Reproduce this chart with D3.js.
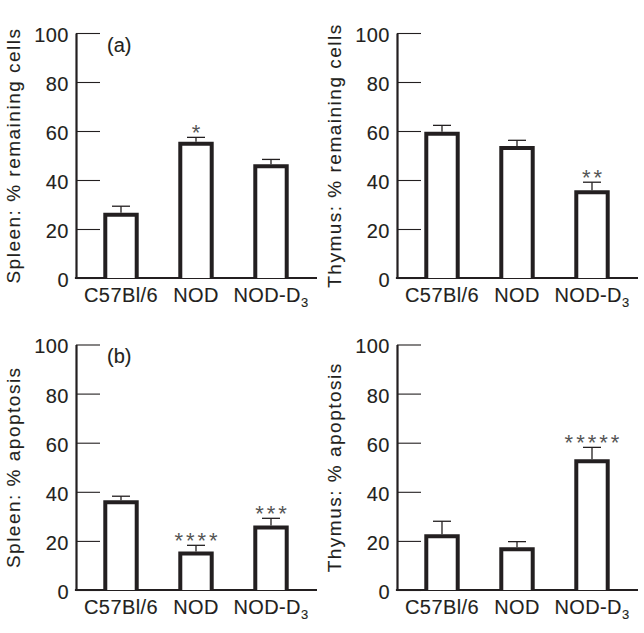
<!DOCTYPE html>
<html>
<head>
<meta charset="utf-8">
<script src="https://cdn.jsdelivr.net/npm/d3@7"></script>
<style>
  html, body { margin: 0; padding: 0; background: #fff; }
  svg { display: block; }
</style>
</head>
<body>
<svg id="chart" width="644" height="633"></svg>
<script>
// ---------------- data ----------------
const categories = ["C57Bl/6", "NOD", "NOD-D3"];
const yTicks = [0, 20, 40, 60, 80, 100];

const spleenRemaining    = [25.8, 54.8, 45.6];
const spleenRemainingErr = [3.5, 2.6, 2.8];
const spleenRemainingSig = ["", "*", ""];

const thymusRemaining    = [58.9, 53.1, 35.0];
const thymusRemainingErr = [3.4, 3.1, 4.1];
const thymusRemainingSig = ["", "", "**"];

const spleenApoptosis    = [35.7, 14.9, 25.5];
const spleenApoptosisErr = [2.5, 3.3, 3.7];
const spleenApoptosisSig = ["", "****", "***"];

const thymusApoptosis    = [21.9, 16.6, 52.4];
const thymusApoptosisErr = [6.1, 3.1, 5.7];
const thymusApoptosisSig = ["", "", "*****"];

const yTitles = ["Spleen: % remaining cells", "Thymus: % remaining cells",
                 "Spleen: % apoptosis", "Thymus: % apoptosis"];
const panelLetters = ["(a)", "", "(b)", ""];

// ---------------- layout ----------------
const panels = [
  { x0: 76,  yBottom: 278, yTop: 33,    values: spleenRemaining, err: spleenRemainingErr, sig: spleenRemainingSig },
  { x0: 397, yBottom: 278, yTop: 33,    values: thymusRemaining, err: thymusRemainingErr, sig: thymusRemainingSig },
  { x0: 76,  yBottom: 590, yTop: 344.5, values: spleenApoptosis, err: spleenApoptosisErr, sig: spleenApoptosisSig },
  { x0: 397, yBottom: 590, yTop: 344.5, values: thymusApoptosis, err: thymusApoptosisErr, sig: thymusApoptosisSig }
];

const ink = "#231f20";
const font = "'Liberation Sans', Arial, Helvetica, sans-serif";
const svg = d3.select("#chart");

function heavy(sel) {
  return sel.attr("fill", ink).attr("stroke", ink).attr("stroke-width", 0.12)
    .attr("paint-order", "stroke");
}

panels.forEach((p, i) => {
  const g = svg.append("g");
  const y = d3.scaleLinear().domain([0, 100]).range([p.yBottom, p.yTop]);
  const x = d3.scaleBand().domain(categories)
    .range([p.x0 + 7.5, p.x0 + 232.5])
    .paddingInner(0.581).paddingOuter(0.2905);

  // y axis
  const yAxis = g.append("g")
    .attr("transform", `translate(${p.x0},0)`)
    .call(d3.axisLeft(y).tickValues(yTicks).tickSizeInner(-24).tickSizeOuter(0).tickPadding(7));
  yAxis.select(".domain").attr("stroke", ink).attr("stroke-width", 2.2);
  yAxis.selectAll(".tick line").attr("stroke", ink).attr("stroke-width", 1.1);
  heavy(yAxis.selectAll(".tick text"))
    .attr("font-family", font).attr("font-size", 20)
    .attr("letter-spacing", 0.5).attr("dy", "0.42em");

  // x axis line
  g.append("line")
    .attr("x1", p.x0 - 1.1).attr("x2", p.x0 + 241)
    .attr("y1", y(0)).attr("y2", y(0))
    .attr("stroke", ink).attr("stroke-width", 2.2);

  // x labels
  const xAxis = g.append("g")
    .attr("transform", `translate(0,${y(0)})`)
    .call(d3.axisBottom(x).tickSize(0).tickPadding(10));
  xAxis.select(".domain").remove();
  heavy(xAxis.selectAll(".tick text"))
    .attr("font-family", font).attr("font-size", 20)
    .attr("letter-spacing", 0.4)
    .each(function(d) {
      if (d === "NOD-D3") {
        const t = d3.select(this).text("");
        t.append("tspan").text("NOD-D");
        t.append("tspan").attr("font-size", 13).attr("dy", 4.5).text("3");
      }
    });

  // bars (open at the bottom, resting on the axis)
  g.selectAll("path.bar")
    .data(categories)
    .join("path")
    .attr("class", "bar")
    .attr("fill", "#fff")
    .attr("stroke", ink)
    .attr("stroke-width", 4)
    .attr("d", (c, j) => {
      const x1 = x(c), x2 = x(c) + x.bandwidth();
      return `M${x1},${y(0)}V${y(p.values[j])}H${x2}V${y(0)}`;
    });

  // error bars
  const eg = g.selectAll("g.err").data(categories).join("g").attr("class", "err");
  eg.append("line")
    .attr("x1", c => x(c) + x.bandwidth() / 2)
    .attr("x2", c => x(c) + x.bandwidth() / 2)
    .attr("y1", (c, j) => y(p.values[j]) - 2)
    .attr("y2", (c, j) => y(p.values[j] + p.err[j]))
    .attr("stroke", ink).attr("stroke-width", 1.3);
  eg.append("line")
    .attr("x1", c => x(c) + x.bandwidth() / 2 - 9)
    .attr("x2", c => x(c) + x.bandwidth() / 2 + 9)
    .attr("y1", (c, j) => y(p.values[j] + p.err[j]))
    .attr("y2", (c, j) => y(p.values[j] + p.err[j]))
    .attr("stroke", ink).attr("stroke-width", 1.3);

  // significance stars
  g.selectAll("text.sig")
    .data(categories)
    .join("text")
    .attr("class", "sig")
    .attr("x", c => x(c) + x.bandwidth() / 2 + 1.5)
    .attr("y", (c, j) => y(p.values[j] + p.err[j]) + 2.5)
    .attr("text-anchor", "middle")
    .attr("font-family", font).attr("font-size", 22)
    .attr("letter-spacing", 3)
    .attr("fill", "#555")
    .text((c, j) => p.sig[j]);

  // y title
  heavy(g.append("text"))
    .attr("transform", `translate(${p.x0 - 56},${(p.yBottom + p.yTop) / 2}) rotate(-90)`)
    .attr("text-anchor", "middle")
    .attr("font-family", font).attr("font-size", 19)
    .attr("letter-spacing", 1.5)
    .text(yTitles[i]);

  // panel letter
  if (panelLetters[i]) {
    heavy(g.append("text"))
      .attr("x", p.x0 + 31).attr("y", p.yTop + 18.5)
      .attr("font-family", font).attr("font-size", 20)
      .text(panelLetters[i]);
  }
});
</script>
</body>
</html>
